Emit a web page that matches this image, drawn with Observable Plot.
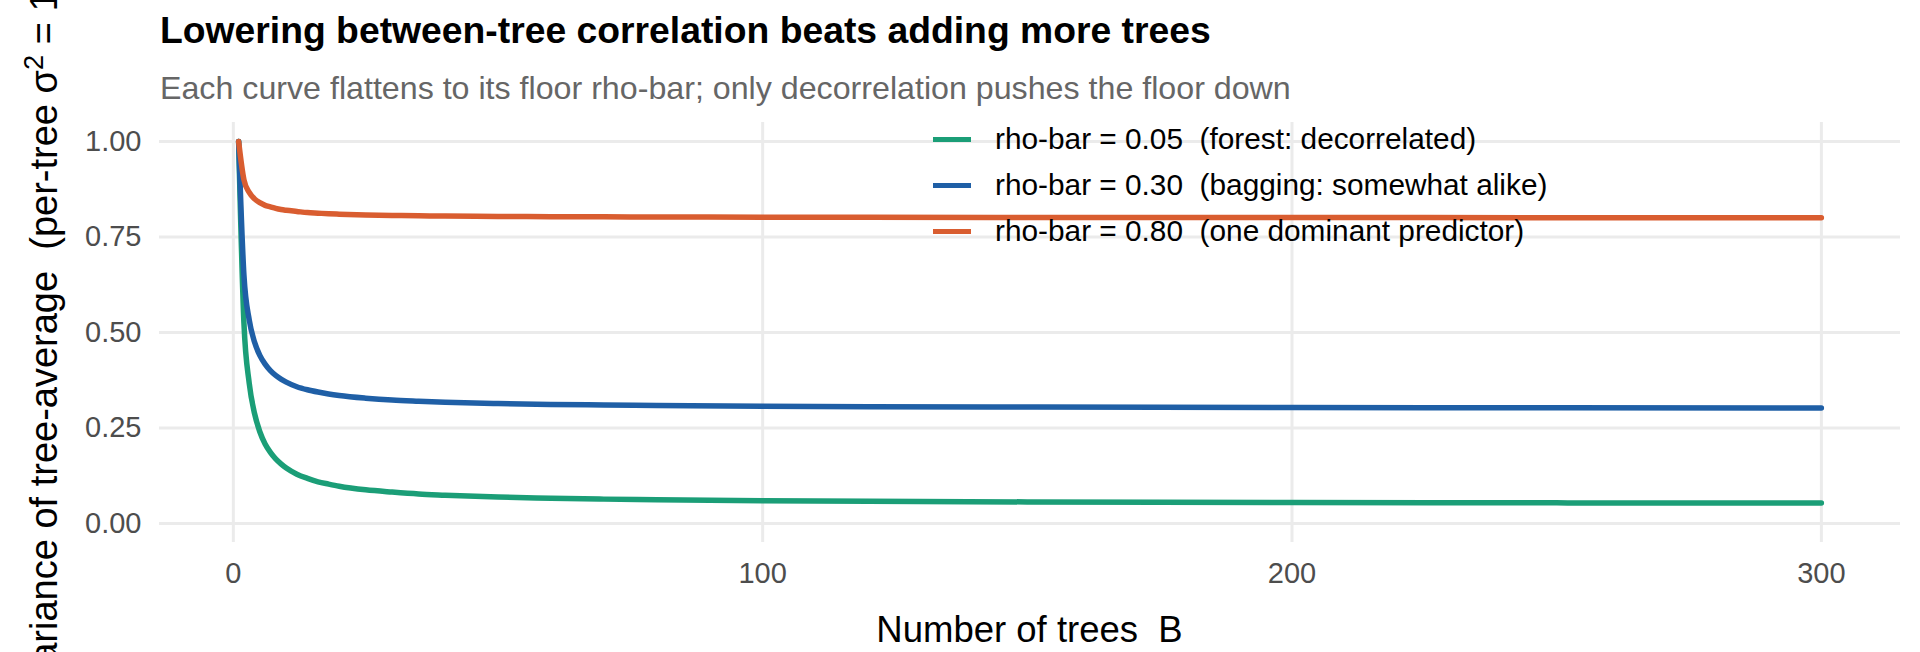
<!DOCTYPE html>
<html>
<head>
<meta charset="utf-8">
<script src="https://cdn.jsdelivr.net/npm/d3@7"></script>
<script src="https://cdn.jsdelivr.net/npm/@observablehq/plot@0.6"></script>
<style>
  html, body { margin: 0; padding: 0; background: #ffffff; }
  #fig { position: relative; width: 1920px; height: 652px; overflow: hidden; font-family: "Liberation Sans", Arial, Helvetica, sans-serif; }
  #header { position: relative; width: 1920px; height: 110px; }
  .abs { position: absolute; white-space: pre; line-height: 1; }
  #title { left: 160px; top: 12px; font-size: 37.3px; font-weight: bold; color: #000; }
  #subtitle { left: 160px; top: 71.5px; font-size: 32.2px; color: #666666; }
  #xtitle { left: 629.5px; width: 800px; top: 612px; text-align: center; font-size: 36.5px; color: #000; }
  #ytitle { left: -406.2px; width: 900px; top: 313px; height: 38px; text-align: center; font-size: 38px; color: #000; transform: rotate(-90deg); transform-origin: 50% 50%; }
  #ytitle sup { font-size: 0.72em; line-height: 0; vertical-align: 0.5em; }
  .legrow { position: absolute; left: 933px; height: 30px; display: flex; align-items: center; white-space: pre; font-size: 29.8px; line-height: 1; color: #000; }
  .legkey { width: 38px; height: 5px; margin-right: 24px; }
</style>
</head>
<body>
<div id="fig">
  <div id="header">
    <div id="title" class="abs">Lowering between-tree correlation beats adding more trees</div>
    <div id="subtitle" class="abs">Each curve flattens to its floor rho-bar; only decorrelation pushes the floor down</div>
  </div>
  <div id="chart"></div>
  <div id="xtitle" class="abs">Number of trees  B</div>
  <div id="ytitle" class="abs">Variance of tree-average  (per-tree σ<sup>2</sup> = 1)</div>
  <div id="legend"></div>
</div>
<script>
// ---- data ----
const treeCounts = [1, 2, 3, 4, 5, 6, 7, 8, 9, 10, 12, 14, 16, 18, 20, 25, 30, 35, 40, 50, 60, 70, 80, 100, 120, 150, 175, 200, 250, 300];

const varForest = [1.000, 0.525, 0.367, 0.288, 0.240, 0.208, 0.186, 0.169, 0.156, 0.145, 0.129, 0.118, 0.109, 0.103, 0.0975, 0.088, 0.082, 0.077, 0.074, 0.069, 0.066, 0.0636, 0.0619, 0.0595, 0.0579, 0.0563, 0.0554, 0.0548, 0.0538, 0.0532];

const varBagging = [1.000, 0.650, 0.533, 0.475, 0.440, 0.417, 0.400, 0.3875, 0.378, 0.370, 0.358, 0.350, 0.344, 0.339, 0.335, 0.328, 0.323, 0.320, 0.3175, 0.314, 0.3117, 0.310, 0.3088, 0.307, 0.3058, 0.3047, 0.304, 0.3035, 0.3028, 0.3023];

const varDominant = [1.000, 0.900, 0.867, 0.850, 0.840, 0.833, 0.829, 0.825, 0.822, 0.820, 0.817, 0.814, 0.8125, 0.811, 0.810, 0.808, 0.8067, 0.8057, 0.805, 0.804, 0.8033, 0.8029, 0.8025, 0.802, 0.8017, 0.8013, 0.8011, 0.801, 0.8008, 0.8007];

const seriesLabels = [
  "rho-bar = 0.05  (forest: decorrelated)",
  "rho-bar = 0.30  (bagging: somewhat alike)",
  "rho-bar = 0.80  (one dominant predictor)"
];
const seriesColors = ["#1b9e77", "#1f5fa6", "#d95d30"];

const xTicks = [0, 100, 200, 300];
const yTicks = [0, 0.25, 0.5, 0.75, 1];

// ---- build long table ----
const seriesValues = [varForest, varBagging, varDominant];
const rows = [];
seriesValues.forEach((vals, i) => {
  vals.forEach((v, j) => rows.push({B: treeCounts[j], v, series: seriesLabels[i]}));
});

const gridStyle = {stroke: "#ebebeb", strokeOpacity: 1, strokeWidth: 3};

const chart = Plot.plot({
  width: 1920,
  height: 542,
  marginLeft: 159,
  marginRight: 20,
  marginTop: 12,
  marginBottom: 110,
  style: {fontFamily: "'Liberation Sans', Arial, sans-serif", background: "transparent"},
  x: {domain: [-13.95, 314.95]},
  y: {domain: [-0.05, 1.05]},
  color: {domain: seriesLabels, range: seriesColors},
  marks: [
    Plot.gridX({ticks: xTicks, ...gridStyle}),
    Plot.gridY({ticks: yTicks, ...gridStyle}),
    Plot.axisX({ticks: xTicks, tickSize: 0, tickPadding: 20, fontSize: 29, fill: "#4d4d4d", label: null}),
    Plot.axisY({ticks: yTicks, tickFormat: d3.format(".2f"), tickSize: 0, tickPadding: 18, fontSize: 29, fill: "#4d4d4d", label: null}),
    Plot.line(rows, {x: "B", y: "v", z: "series", stroke: "series", strokeWidth: 5.5, curve: "monotone-x", strokeLinejoin: "round"})
  ]
});
document.getElementById("chart").appendChild(chart);

// ---- legend (HTML, inside panel top) ----
const legendRowsY = [139, 185, 231];
const legend = document.getElementById("legend");
seriesLabels.forEach((lab, i) => {
  const row = document.createElement("div");
  row.className = "legrow";
  row.style.top = (legendRowsY[i] - 15) + "px";
  const key = document.createElement("div");
  key.className = "legkey";
  key.style.background = seriesColors[i];
  const txt = document.createElement("span");
  txt.textContent = lab;
  row.appendChild(key);
  row.appendChild(txt);
  legend.appendChild(row);
});
</script>
</body>
</html>
